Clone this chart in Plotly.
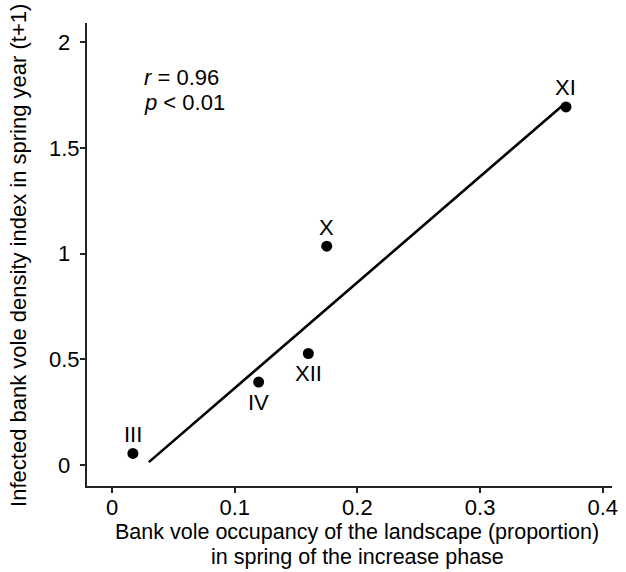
import plotly.graph_objects as go

# Occupancy of the landscape (x) vs infected bank vole density index (y)
phase_labels = ["III", "IV", "XII", "X", "XI"]
occupancy = [0.017, 0.1195, 0.160, 0.175, 0.370]
infected_index = [0.055, 0.393, 0.528, 1.036, 1.695]
label_side = ["top", "bottom", "bottom", "top", "top"]

# Fitted regression line endpoints
fit_x = [0.030, 0.3665]
fit_y = [0.014, 1.698]

x_ticks = [0, 0.1, 0.2, 0.3, 0.4]
x_tick_text = ["0", "0.1", "0.2", "0.3", "0.4"]
y_ticks = [0, 0.5, 1, 1.5, 2]
y_tick_text = ["0", "0.5", "1", "1.5", "2"]

x_title_lines = [
    "Bank vole occupancy of the landscape (proportion)",
    "in spring of the increase phase",
]
y_title = "Infected bank vole density index in spring year (t+1)"

FONT = "Liberation Sans, Arial, sans-serif"
INK = "#000000"
FS = 22

fig = go.Figure()

fig.add_trace(go.Scatter(
    x=fit_x, y=fit_y, mode="lines",
    line=dict(color=INK, width=2.6),
    hoverinfo="skip", showlegend=False,
))

fig.add_trace(go.Scatter(
    x=occupancy, y=infected_index, mode="markers",
    marker=dict(color=INK, size=11),
    showlegend=False,
))

for lab, x, y, side in zip(phase_labels, occupancy, infected_index, label_side):
    fig.add_annotation(
        x=x, y=y, text=lab, showarrow=False,
        yshift=19 if side == "top" else -20,
        font=dict(family=FONT, size=FS, color=INK),
        xanchor="center", yanchor="middle",
    )

fig.add_annotation(
    x=0.0245, y=1.835, xref="x", yref="y", text="<i>r</i> = 0.96",
    showarrow=False, xanchor="left", yanchor="middle",
    font=dict(family=FONT, size=FS, color=INK),
)
fig.add_annotation(
    x=0.0245, y=1.717, xref="x", yref="y", text="<i>p</i> < 0.01",
    showarrow=False, xanchor="left", yanchor="middle",
    font=dict(family=FONT, size=FS, color=INK),
)

# Y tick labels, centred in a column left of the axis
for val, txt in zip(y_ticks, y_tick_text):
    fig.add_annotation(
        x=0, y=val, xref="paper", yref="y", text=txt,
        showarrow=False, xanchor="center", yanchor="middle",
        xshift=-23,
        font=dict(family=FONT, size=FS, color=INK),
    )

# Axis titles, placed below / left of the plotting area
for i, line in enumerate(x_title_lines):
    fig.add_annotation(
        x=0.515, y=0, xref="paper", yref="paper", text=line,
        showarrow=False, xanchor="center", yanchor="middle",
        yshift=-46 - 24.5 * i,
        font=dict(family=FONT, size=21.5, color=INK),
    )
fig.add_annotation(
    x=0, y=0.497, xref="paper", yref="paper", text=y_title,
    showarrow=False, textangle=-90, xanchor="center", yanchor="middle",
    xshift=-68,
    font=dict(family=FONT, size=FS, color=INK),
)

axis_common = dict(
    showline=True, linecolor="#222222", linewidth=2,
    ticks="outside", ticklen=5, tickwidth=1.5, tickcolor="#222222",
    showgrid=False, zeroline=False, mirror=False, automargin=False,
    tickfont=dict(family=FONT, size=FS, color=INK),
)

fig.update_xaxes(
    range=[-0.0204, 0.4075],
    tickvals=x_ticks, ticktext=x_tick_text,
    ticklabelstandoff=-4,
    **axis_common,
)
fig.update_yaxes(
    range=[-0.099, 2.092],
    tickvals=y_ticks, showticklabels=False,
    **axis_common,
)

fig.update_layout(
    width=626, height=572,
    margin=dict(l=87, r=14, t=23, b=86),
    plot_bgcolor="white", paper_bgcolor="white",
    font=dict(family=FONT, size=FS, color=INK),
)

fig.write_html("out.html")
